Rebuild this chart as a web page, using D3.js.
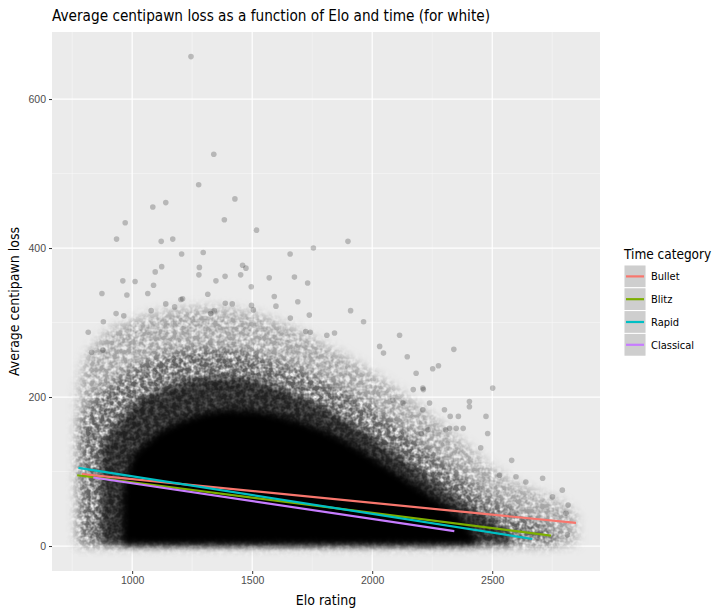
<!DOCTYPE html>
<html>
<head>
<meta charset="utf-8">
<script src="https://cdn.jsdelivr.net/npm/d3@7"></script>
<style>
  body { margin: 0; background: #fff; }
  svg { display: block; font-family: "Liberation Sans Narrow", "DejaVu Sans Condensed", "Roboto", sans-serif; }
</style>
</head>
<body>
<div id="chart"></div>
<script>
// Tick values
const xMajor = [1000, 1500, 2000, 2500];
const xMinor = [750, 1250, 1750, 2250, 2750];
const yMajor = [0, 200, 400, 600];
const yMinor = [100, 300, 500];

// Density of the point cloud, read off the picture as upper edges [elo, loss]
// outer halo -> solid core
const haloSparse = [[775,210],[800,245],[850,272],[900,288],[1000,302],[1100,312],[1200,318],[1300,320],[1400,318],[1500,312],[1600,302],[1700,288],[1800,270],[1900,252],[2000,232],[2100,210],[2200,186],[2300,160],[2400,132],[2500,104],[2600,84],[2700,70],[2800,56],[2850,40]];
const haloMedium = [[780,165],[850,198],[900,214],[1000,238],[1100,253],[1200,261],[1300,265],[1400,264],[1500,258],[1600,248],[1700,236],[1800,222],[1900,206],[2000,186],[2100,163],[2200,138],[2300,112],[2400,86],[2500,62],[2600,44],[2700,30],[2770,18]];
const haloDense = [[870,130],[920,158],[970,176],[1000,188],[1100,207],[1200,219],[1300,226],[1400,227],[1500,223],[1600,213],[1700,200],[1800,185],[1900,167],[2000,147],[2100,124],[2200,100],[2300,77],[2400,54],[2500,34],[2580,16]];
const core = [[960,70],[1000,118],[1050,136],[1100,150],[1200,167],[1300,178],[1400,183],[1500,182],[1600,176],[1700,167],[1800,155],[1900,139],[2000,119],[2100,98],[2200,77],[2300,55],[2380,33],[2430,12]];
const cloudFloor = 2;

// Individual games standing out of the cloud [elo, loss]
const outliers = [[1245,657],[1340,526],[1277,485],[1428,466],[1086,455],[1140,461],[971,434],[1384,438],[1518,424],[935,412],[1121,409],[1169,412],[1206,392],[1296,394],[1658,392],[1755,400],[1899,409],[1123,375],[1096,368],[1280,374],[1460,377],[1474,373],[961,356],[1012,355],[1089,350],[1278,364],[1349,356],[1387,362],[1452,364],[1571,360],[1676,361],[1731,353],[1496,348],[874,339],[978,337],[1065,339],[1315,338],
  [1964,301],[2114,283],[2340,264],[2031,268],[2047,259],[2146,254],[2502,212],[2252,238],[2276,242],[2183,232],[2211,212],[2405,194],[2405,187],[2474,174],[2325,174],[2359,174],[2481,151],[2581,115],[2530,95],[2599,93],[2640,86],[2710,91],[2792,75],[2816,55],[2813,15],[2751,66],[2807,44],[2086,196],[2128,192],[2211,183],[2239,192],[2301,183],[2322,158],[2350,158],
  [1910,316],[1738,310],[1690,328],[1592,335],[1599,322],[817,287],[831,260],[878,263],[880,301],[933,312],[965,309],[1388,326],[1417,325],[1497,323],[1505,317],[1342,316],[1327,312],[1140,325],[1177,321],[1210,332],[1203,331],[1079,316],[1659,306],[1742,287],[1723,288],[1811,283],[1843,286],[2171,210],[2213,210],[2452,132],[2306,156],[2379,158],[2204,151],[2233,156]];

// Linear fits per time category: [start, end] as [elo, loss]
const categories = ["Bullet", "Blitz", "Rapid", "Classical"];
const colors = ["#F8766D", "#7CAE00", "#00BFC4", "#C77CFF"];
const fits = [
  [[790, 96.5], [2849, 31]],
  [[771, 95], [2745, 14]],
  [[776, 105], [2667, 9.5]],
  [[838, 92], [2342, 20]]
];

const w = 720;
const h = 615;
const panel = { left: 52, right: 600, top: 32, bottom: 571 };

const xScale = d3.scaleLinear().domain([666, 2949]).range([panel.left, panel.right]);
const yScale = d3.scaleLinear().domain([-33.5, 690]).range([panel.bottom, panel.top]);

const svg = d3.select("#chart").append("svg")
  .attr("width", w)
  .attr("height", h);

svg.append("rect").attr("width", w).attr("height", h).attr("fill", "#fff");

const defs = svg.append("defs");
defs.append("filter").attr("id", "soft")
  .attr("x", "-5%").attr("y", "-5%").attr("width", "110%").attr("height", "110%")
  .append("feGaussianBlur").attr("stdDeviation", 3.5);

// speckled look for the thinner parts of the cloud (overplotted dots)
const speckle = defs.append("filter").attr("id", "speckle")
  .attr("x", "-8%").attr("y", "-8%").attr("width", "116%").attr("height", "116%");
speckle.append("feTurbulence")
  .attr("type", "fractalNoise").attr("baseFrequency", 0.22)
  .attr("numOctaves", 2).attr("seed", 11).attr("result", "noise");
speckle.append("feColorMatrix")
  .attr("in", "noise").attr("type", "matrix")
  .attr("values", "0 0 0 0 0  0 0 0 0 0  0 0 0 0 0  0 0 0 2.4 -0.55")
  .attr("result", "mask");
speckle.append("feGaussianBlur")
  .attr("in", "SourceGraphic").attr("stdDeviation", 6).attr("result", "blur");
speckle.append("feComposite")
  .attr("in", "blur").attr("in2", "mask").attr("operator", "in");

defs.append("clipPath").attr("id", "clip")
  .append("rect")
  .attr("x", panel.left).attr("y", panel.top)
  .attr("width", panel.right - panel.left).attr("height", panel.bottom - panel.top);

// Panel background + grid
svg.append("rect")
  .attr("x", panel.left).attr("y", panel.top)
  .attr("width", panel.right - panel.left).attr("height", panel.bottom - panel.top)
  .attr("fill", "#EBEBEB");

const grid = svg.append("g");
grid.selectAll(".xminor").data(xMinor).enter().append("line")
  .attr("x1", d => xScale(d)).attr("x2", d => xScale(d))
  .attr("y1", panel.top).attr("y2", panel.bottom)
  .attr("stroke", "#F7F7F7").attr("stroke-width", 0.6);
grid.selectAll(".yminor").data(yMinor).enter().append("line")
  .attr("y1", d => yScale(d)).attr("y2", d => yScale(d))
  .attr("x1", panel.left).attr("x2", panel.right)
  .attr("stroke", "#F7F7F7").attr("stroke-width", 0.6);
grid.selectAll(".xmajor").data(xMajor).enter().append("line")
  .attr("x1", d => xScale(d)).attr("x2", d => xScale(d))
  .attr("y1", panel.top).attr("y2", panel.bottom)
  .attr("stroke", "#fff").attr("stroke-width", 1.2);
grid.selectAll(".ymajor").data(yMajor).enter().append("line")
  .attr("y1", d => yScale(d)).attr("y2", d => yScale(d))
  .attr("x1", panel.left).attr("x2", panel.right)
  .attr("stroke", "#fff").attr("stroke-width", 1.2);

// Point cloud
const plot = svg.append("g").attr("clip-path", "url(#clip)");
const band = d3.area()
  .x(d => xScale(d[0]))
  .y0(yScale(cloudFloor))
  .y1(d => yScale(d[1]))
  .curve(d3.curveMonotoneX);

const bands = [
  { data: haloSparse, alpha: 0.3, filter: "url(#speckle)" },
  { data: haloMedium, alpha: 0.42, filter: "url(#speckle)" },
  { data: haloDense, alpha: 0.65, filter: "url(#soft)" },
  { data: core, alpha: 1, filter: "url(#soft)" }
];
plot.selectAll(".band").data(bands).enter().append("path")
  .attr("d", d => band(d.data))
  .attr("fill", "#000")
  .attr("fill-opacity", d => d.alpha)
  .attr("filter", d => d.filter);

plot.selectAll(".pt").data(outliers).enter().append("circle")
  .attr("cx", d => xScale(d[0]))
  .attr("cy", d => yScale(d[1]))
  .attr("r", 2.8)
  .attr("fill", "#000")
  .attr("fill-opacity", 0.22);

// Regression lines
const line = d3.line().x(d => xScale(d[0])).y(d => yScale(d[1]));
plot.selectAll(".fit").data(fits).enter().append("path")
  .attr("d", d => line(d))
  .attr("fill", "none")
  .attr("stroke", (d, i) => colors[i])
  .attr("stroke-width", 2.2);

// Axes
const xAxis = d3.axisBottom(xScale).tickValues(xMajor).tickFormat(d3.format("d")).tickSize(3).tickPadding(3);
const yAxis = d3.axisLeft(yScale).tickValues(yMajor).tickFormat(d3.format("d")).tickSize(3).tickPadding(3);

const gx = svg.append("g").attr("transform", `translate(0, ${panel.bottom})`).call(xAxis);
const gy = svg.append("g").attr("transform", `translate(${panel.left}, 0)`).call(yAxis);
[gx, gy].forEach(g => {
  g.select(".domain").remove();
  g.selectAll(".tick line").attr("stroke", "#333");
  g.selectAll(".tick text")
    .attr("fill", "#4D4D4D")
    .style("font-size", "10.5px")
    .style("font-family", null);
});

// Titles
svg.append("text")
  .attr("x", panel.left).attr("y", 21)
  .attr("textLength", 438).attr("lengthAdjust", "spacingAndGlyphs")
  .style("font-size", "16px")
  .attr("fill", "#000")
  .text("Average centipawn loss as a function of Elo and time (for white)");

svg.append("text")
  .attr("x", (panel.left + panel.right) / 2).attr("y", 605)
  .attr("text-anchor", "middle")
  .style("font-size", "14px")
  .text("Elo rating");

svg.append("text")
  .attr("transform", `translate(19, ${(panel.top + panel.bottom) / 2}) rotate(-90)`)
  .attr("text-anchor", "middle")
  .style("font-size", "14px")
  .text("Average centipawn loss");

// Legend
const legend = svg.append("g").attr("transform", "translate(624, 0)");
legend.append("text")
  .attr("x", 0).attr("y", 259)
  .style("font-size", "13.5px")
  .text("Time category");

const keyTop = 265;
const keyH = 22.8;
const keyW = 22;
const keys = legend.selectAll(".key").data(categories).enter().append("g")
  .attr("transform", (d, i) => `translate(0, ${keyTop + i * keyH})`);
keys.append("rect")
  .attr("width", keyW).attr("height", keyH)
  .attr("fill", "#F2F2F2").attr("stroke", "#fff").attr("stroke-width", 1);
keys.append("rect")
  .attr("x", 0.5).attr("y", 0.5)
  .attr("width", keyW - 1).attr("height", keyH - 1)
  .attr("fill", "#999").attr("fill-opacity", 0.4);
keys.append("line")
  .attr("x1", 2).attr("x2", keyW - 2)
  .attr("y1", keyH / 2).attr("y2", keyH / 2)
  .attr("stroke", (d, i) => colors[i])
  .attr("stroke-width", 2.2);
keys.append("text")
  .attr("x", keyW + 5).attr("y", keyH / 2 + 3.8)
  .style("font-size", "11px")
  .text(d => d);
</script>
</body>
</html>
